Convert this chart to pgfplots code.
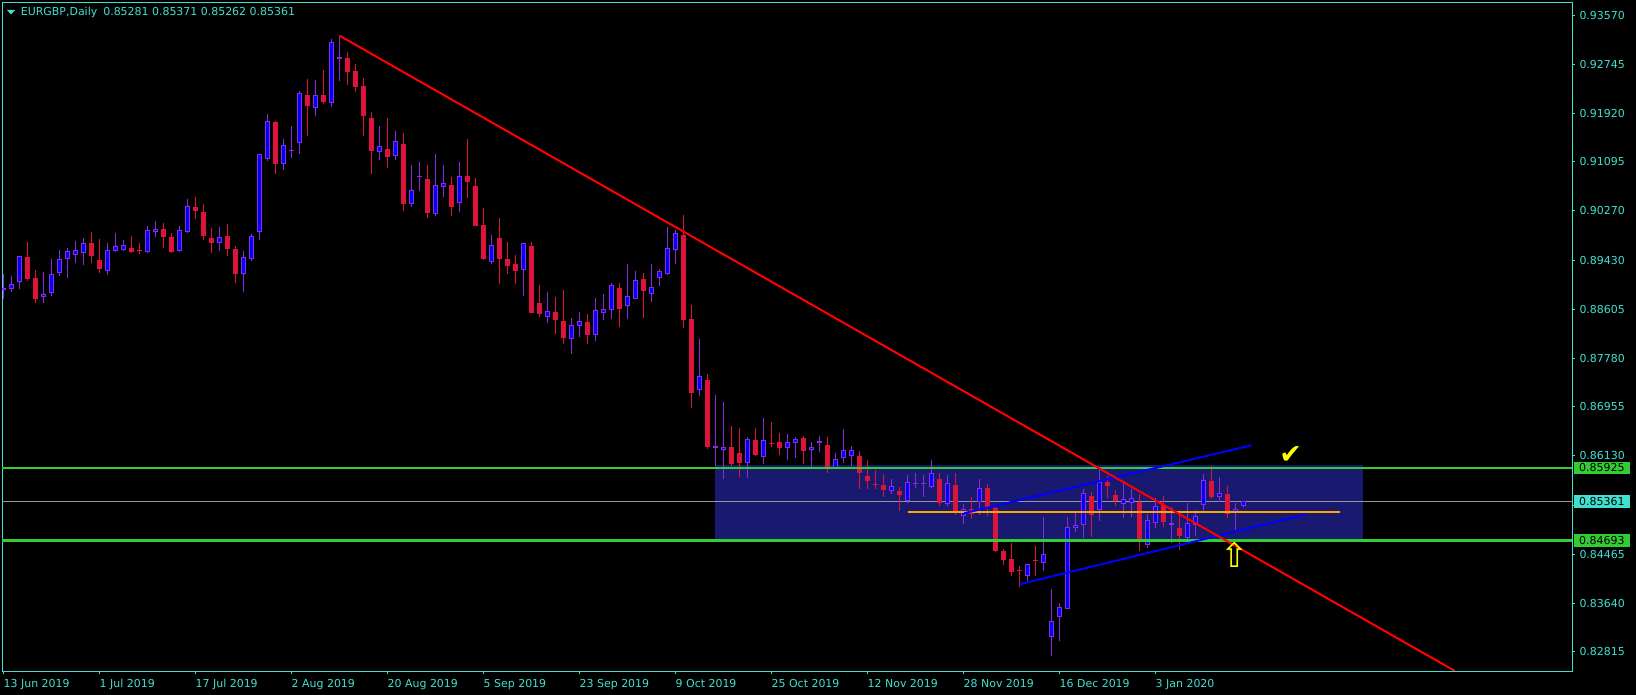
\documentclass[border=0pt]{standalone}
\usepackage{fontspec}
\setmainfont{DejaVu Sans}
\usepackage{pgfplots}
\usepackage{pgfplotstable}
\pgfplotsset{compat=1.18}
\definecolor{turq}{RGB}{64,224,208}
\definecolor{crim}{RGB}{220,20,60}
\definecolor{bullblue}{RGB}{0,0,255}
\definecolor{upviolet}{RGB}{138,43,226}
\definecolor{rectnavy}{RGB}{25,25,112}
\definecolor{limeg}{RGB}{50,205,50}
\definecolor{bidgray}{RGB}{150,150,150}
\definecolor{orng}{RGB}{255,165,0}
\definecolor{yel}{RGB}{255,255,0}
\definecolor{pure red}{RGB}{255,0,0}

\pgfplotstableread{
i o h l c
0 0.88926 0.89197 0.88774 0.88960
1 0.88943 0.89163 0.88904 0.89028
2 0.89062 0.89510 0.88943 0.89501
5 0.88808 0.89230 0.88718 0.88859
6 0.88876 0.89456 0.88836 0.89197
7 0.89214 0.89613 0.89174 0.89450
8 0.89450 0.89636 0.89140 0.89585
9 0.89518 0.89760 0.89394 0.89602
10 0.89551 0.89805 0.89360 0.89720
13 0.89247 0.89726 0.89191 0.89602
14 0.89596 0.89895 0.89580 0.89670
15 0.89602 0.89777 0.89585 0.89687
18 0.89568 0.90013 0.89551 0.89940
19 0.89917 0.90098 0.89833 0.89957
22 0.89596 0.90013 0.89580 0.89940
23 0.89917 0.90469 0.89900 0.90345
27 0.89720 0.89996 0.89596 0.89822
30 0.89197 0.89596 0.88904 0.89484
31 0.89450 0.89878 0.89428 0.89839
32 0.89906 0.91235 0.89777 0.91224
33 0.91141 0.91901 0.91118 0.91794
35 0.91056 0.91484 0.90955 0.91377
36 0.91276 0.91698 0.91169 0.91287
37 0.91411 0.92295 0.91236 0.92267
39 0.92002 0.92480 0.91878 0.92222
41 0.92087 0.93167 0.92030 0.93117
42 0.92830 0.93229 0.92469 0.92863
47 0.91259 0.91698 0.91124 0.91360
49 0.91191 0.91619 0.91135 0.91445
51 0.90381 0.91049 0.90341 0.90617
52 0.90837 0.91096 0.90611 0.90843
54 0.90212 0.91231 0.90184 0.90713
55 0.90668 0.91044 0.90510 0.90735
57 0.90397 0.91089 0.90256 0.90853
61 0.89400 0.89862 0.89378 0.89687
65 0.89265 0.89721 0.88837 0.89721
68 0.88482 0.88899 0.88381 0.88573
71 0.88100 0.88460 0.87857 0.88336
72 0.88319 0.88561 0.88145 0.88404
74 0.88167 0.88792 0.88071 0.88590
75 0.88539 0.88865 0.88432 0.88606
76 0.88590 0.89045 0.88449 0.89012
78 0.88657 0.89366 0.88449 0.88826
79 0.88787 0.89248 0.88775 0.89096
81 0.88860 0.89366 0.88736 0.88978
82 0.89130 0.89282 0.89006 0.89248
83 0.89209 0.89997 0.89192 0.89637
84 0.89603 0.89946 0.89378 0.89890
87 0.87243 0.88099 0.87142 0.87474
89 0.86269 0.87158 0.85959 0.86292
90 0.86235 0.87040 0.85745 0.86275
93 0.86016 0.86444 0.85757 0.86410
95 0.86117 0.86770 0.85993 0.86393
98 0.86269 0.86500 0.86061 0.86359
99 0.86354 0.86444 0.86095 0.86410
101 0.86235 0.86359 0.85943 0.86275
102 0.86348 0.86460 0.86196 0.86382
104 0.85920 0.86179 0.85900 0.86072
105 0.86089 0.86584 0.86010 0.86224
106 0.86123 0.86292 0.85959 0.86224
111 0.85531 0.85734 0.85486 0.85627
113 0.85367 0.85806 0.85339 0.85682
114 0.85660 0.85840 0.85592 0.85665
115 0.85660 0.85806 0.85440 0.85665
116 0.85609 0.86059 0.85592 0.85834
118 0.85310 0.85806 0.85288 0.85665
120 0.85108 0.85310 0.84984 0.85237
122 0.85344 0.85733 0.85130 0.85592
128 0.84106 0.84297 0.84016 0.84297
130 0.84314 0.85097 0.84190 0.84466
131 0.83064 0.83880 0.82749 0.83334
132 0.83402 0.83644 0.83008 0.83576
133 0.83537 0.85097 0.83537 0.84922
134 0.84905 0.85158 0.84838 0.84956
135 0.84956 0.85569 0.84747 0.85496
137 0.85209 0.85891 0.85035 0.85694
140 0.85311 0.85665 0.85085 0.85395
141 0.85328 0.85570 0.85097 0.85423
143 0.84618 0.85142 0.84579 0.85040
144 0.84990 0.85412 0.84905 0.85277
146 0.84956 0.85260 0.84652 0.84990
148 0.84736 0.85327 0.84730 0.84990
149 0.84962 0.85209 0.84776 0.85108
150 0.85294 0.85823 0.85204 0.85716
152 0.85429 0.85767 0.85350 0.85497
154 0.85181 0.85327 0.84877 0.85226
155 0.85281 0.85371 0.85262 0.85361
}\bulltab

\pgfplotstableread{
i o h l c
3 0.89484 0.89743 0.89090 0.89118
4 0.89135 0.89270 0.88718 0.88774
11 0.89726 0.89912 0.89394 0.89512
12 0.89439 0.89793 0.89225 0.89281
16 0.89636 0.89844 0.89563 0.89580
17 0.89591 0.89720 0.89535 0.89585
20 0.89957 0.90064 0.89647 0.89833
21 0.89822 0.89889 0.89551 0.89580
24 0.90328 0.90503 0.90137 0.90272
25 0.90244 0.90385 0.89782 0.89850
26 0.89805 0.89979 0.89563 0.89720
28 0.89844 0.90047 0.89512 0.89630
29 0.89619 0.89675 0.89056 0.89208
34 0.91766 0.91794 0.90887 0.91067
38 0.92222 0.92497 0.91540 0.92047
40 0.92222 0.92649 0.92070 0.92115
43 0.92846 0.92948 0.92402 0.92621
44 0.92627 0.92745 0.92283 0.92368
45 0.92374 0.92509 0.91540 0.91867
46 0.91833 0.91934 0.90899 0.91287
48 0.91310 0.91833 0.90999 0.91186
50 0.91400 0.91591 0.90274 0.90392
53 0.90808 0.91044 0.90155 0.90240
56 0.90701 0.90836 0.90183 0.90340
58 0.90853 0.91483 0.90492 0.90762
59 0.90689 0.90819 0.90019 0.90019
60 0.90031 0.90318 0.89445 0.89462
62 0.89811 0.90149 0.89040 0.89462
63 0.89451 0.89744 0.89209 0.89344
64 0.89366 0.89524 0.89040 0.89259
66 0.89676 0.89744 0.88550 0.88550
67 0.88708 0.89017 0.88482 0.88522
69 0.88556 0.88815 0.88195 0.88432
70 0.88404 0.88933 0.88026 0.88128
73 0.88392 0.88528 0.88026 0.88178
77 0.88961 0.89045 0.88314 0.88617
80 0.89113 0.89214 0.88466 0.88922
85 0.89861 0.90199 0.88290 0.88425
86 0.88442 0.88673 0.86939 0.87192
88 0.87412 0.87513 0.86246 0.86280
91 0.86275 0.86635 0.85959 0.85993
92 0.86173 0.86601 0.85774 0.86004
94 0.86393 0.86601 0.86130 0.86145
96 0.86348 0.86703 0.86280 0.86337
97 0.86359 0.86511 0.86145 0.86269
100 0.86427 0.86460 0.85993 0.86218
103 0.86308 0.86444 0.85847 0.85920
107 0.86123 0.86213 0.85576 0.85836
108 0.85785 0.86055 0.85576 0.85700
109 0.85633 0.85886 0.85565 0.85628
110 0.85633 0.85819 0.85436 0.85548
112 0.85536 0.85609 0.85203 0.85474
117 0.85733 0.85840 0.85288 0.85339
119 0.85631 0.85840 0.85130 0.85198
121 0.85237 0.85429 0.85063 0.85147
123 0.85581 0.85648 0.85113 0.85254
124 0.85243 0.85293 0.84505 0.84522
125 0.84516 0.84556 0.84291 0.84376
126 0.84387 0.84652 0.84106 0.84173
127 0.84181 0.84263 0.83920 0.84176
129 0.84359 0.84607 0.84106 0.84354
136 0.85446 0.85519 0.84764 0.85136
138 0.85694 0.85795 0.85423 0.85626
139 0.85463 0.85553 0.85288 0.85373
142 0.85356 0.85479 0.84528 0.84708
145 0.85305 0.85451 0.84922 0.85018
147 0.84911 0.85187 0.84534 0.84781
151 0.85705 0.85958 0.85395 0.85440
153 0.85480 0.85615 0.85085 0.85142
}\beartab

\begin{document}
\begin{tikzpicture}
\path[use as bounding box] (-2.2bp,-24bp) rectangle (1633.8bp,671bp);
\fill[black] (-2.2bp,-24bp) rectangle (1633.8bp,671bp);
\begin{axis}[
  at={(0,0)}, anchor=south west,
  scale only axis, width=1570.1bp, height=668.7bp,
  xmin=-0.1625, xmax=196.1, ymin=0.82493, ymax=0.93793,
  clip mode=individual,
  axis line style={draw=turq, line width=1bp},
  xtick={0,12,...,144},
  xticklabels={13 Jun 2019,1 Jul 2019,17 Jul 2019,2 Aug 2019,20 Aug 2019,5 Sep 2019,23 Sep 2019,9 Oct 2019,25 Oct 2019,12 Nov 2019,28 Nov 2019,16 Dec 2019,3 Jan 2020},
  ytick={0.82815,0.83640,0.84465,0.85290,0.86130,0.86955,0.87780,0.88605,0.89430,0.90270,0.91095,0.91920,0.92745,0.93570},
  yticklabels={0.82815,0.83640,0.84465,{},0.86130,0.86955,0.87780,0.88605,0.89430,0.90270,0.91095,0.91920,0.92745,0.93570},
  scaled y ticks=false, scaled x ticks=false,
  xtick pos=bottom, ytick pos=right, yticklabel pos=right,
  tick align=outside, major tick length=3bp,
  tick style={draw=turq, line width=1bp},
  ticklabel style={font=\fontsize{11}{13}\selectfont, text=turq, inner sep=0pt},
  xticklabel style={anchor=north west, yshift=-4.7bp},
  yticklabel style={anchor=west, xshift=4bp},
  /pgf/number format/assume math mode=true,
]
% background rectangle object
\addplot[fill=rectnavy, draw=none] coordinates {(88.94,0.84693) (169.9,0.84693) (169.9,0.85975) (88.94,0.85975)} -- cycle;
% bid line
\addplot[draw=bidgray, line width=1bp] coordinates {(-0.1625,0.85361) (196.1,0.85361)};
% wicks
\addplot[draw=none, error bars/.cd, y dir=plus, y explicit, error mark=none,
  error bar style={draw=upviolet, line width=1bp}]
  table[x=i, y=l, y error plus expr=\thisrow{h}-\thisrow{l}] {\bulltab};
\addplot[draw=none, error bars/.cd, y dir=plus, y explicit, error mark=none,
  error bar style={draw=crim, line width=1bp}]
  table[x=i, y=l, y error plus expr=\thisrow{h}-\thisrow{l}] {\beartab};
% bodies
\addplot[draw=none, error bars/.cd, y dir=plus, y explicit, error mark=none,
  error bar style={draw=upviolet, line width=5bp}]
  table[x=i, y=o, y error plus expr={max(\thisrow{c}-\thisrow{o},0.00017)}] {\bulltab};
\addplot[draw=none, error bars/.cd, y dir=plus, y explicit, error mark=none,
  error bar style={draw=bullblue, line width=3bp}]
  table[x=i, y expr=\thisrow{o}+0.00017, y error plus expr={max(\thisrow{c}-\thisrow{o}-0.00034,0)}] {\bulltab};
\addplot[draw=none, error bars/.cd, y dir=plus, y explicit, error mark=none,
  error bar style={draw=crim, line width=5bp}]
  table[x=i, y=c, y error plus expr={max(\thisrow{o}-\thisrow{c},0.00017)}] {\beartab};
% horizontal levels
\addplot[draw=limeg, line width=2.7bp] coordinates {(-0.1625,0.85925) (196.1,0.85925)};
\addplot[draw=limeg, line width=2.7bp] coordinates {(-0.1625,0.84693) (196.1,0.84693)};
\addplot[draw=orng, line width=2bp] coordinates {(113,0.85187) (167,0.85187)};
% channel lines
\addplot[draw=bullblue, line width=2bp] coordinates {(120.1,0.85160) (156,0.86307)};
\addplot[draw=bullblue, line width=2bp] coordinates {(127,0.83959) (163,0.85146)};
% trend line
\addplot[draw=pure red, line width=2bp] coordinates {(42,0.93229) (181.43,0.82493)};
% symbols
\node[text=yel, inner sep=0pt, font=\fontsize{27}{27}\selectfont] at (axis cs:160.9,0.86137) {✔};
\node[text=yel, inner sep=0pt, font=\fontsize{34}{34}\selectfont] at (axis cs:153.9,0.84462) {⇧};
\coordinate (g1) at (axis cs:196.1,0.85925);
\coordinate (g2) at (axis cs:196.1,0.84693);
\coordinate (g3) at (axis cs:196.1,0.85361);
\end{axis}
\node[fill=limeg, text=black, anchor=west, inner xsep=5bp, inner ysep=0pt, minimum height=12.8bp, font=\fontsize{11}{13}\selectfont] at ([xshift=1.7bp]g1) {0.85925};
\node[fill=limeg, text=black, anchor=west, inner xsep=5bp, inner ysep=0pt, minimum height=12.8bp, font=\fontsize{11}{13}\selectfont] at ([xshift=1.7bp]g2) {0.84693};
\node[fill=turq, text=black, anchor=west, inner xsep=5bp, inner ysep=0pt, minimum height=13bp, font=\fontsize{11}{13}\selectfont] at ([xshift=1.7bp]g3) {0.85361};
\fill[turq] (4.8bp,661bp) -- (12.8bp,661bp) -- (8.8bp,656.5bp) -- cycle;
\node[anchor=west, inner sep=0pt, text=turq, font=\fontsize{11}{13}\selectfont] at (18.5bp,658.2bp) {EURGBP,Daily\hspace{6bp}0.85281 0.85371 0.85262 0.85361};
\end{tikzpicture}
\end{document}
